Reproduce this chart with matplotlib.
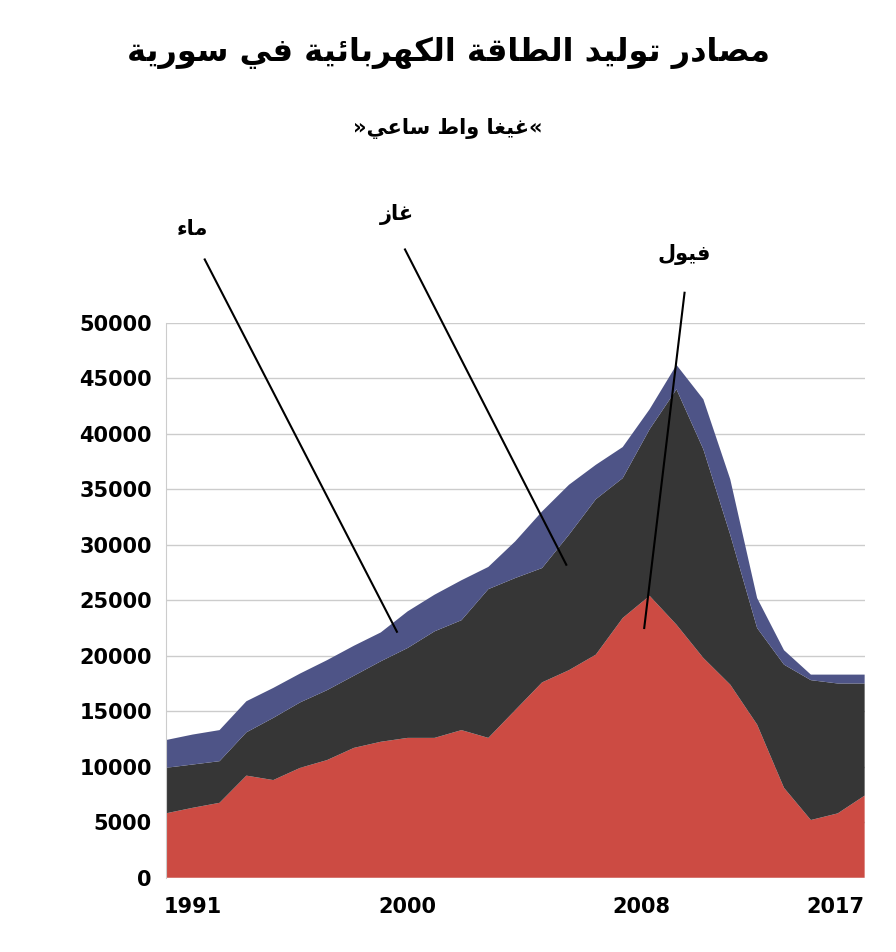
import matplotlib
matplotlib.use("Agg")
import matplotlib.pyplot as plt
import numpy as np

years = list(range(1991, 2018))
fuel = [5800, 6300, 6750, 9200, 8800, 9900, 10600, 11700, 12250, 12600, 12600, 13300, 12600,
        15100, 17600, 18700, 20100, 23400, 25400, 22800, 19800, 17400, 13800, 8100, 5200, 5800, 7400]
fuel_gas = [9900, 10200, 10500, 13100, 14400, 15800, 16900, 18200, 19500, 20700, 22200, 23200, 26000,
            27000, 27900, 30900, 34100, 36000, 40400, 44000, 38600, 30900, 22500, 19200, 17800, 17500, 17500]
total = [12400, 12900, 13300, 15900, 17100, 18400, 19600, 20900, 22100, 24000, 25500, 26800, 28000,
         30300, 33000, 35400, 37200, 38800, 42200, 46200, 43100, 35900, 25200, 20500, 18300, 18300, 18300]
gas = [a - b for a, b in zip(fuel_gas, fuel)]
water = [a - b for a, b in zip(total, fuel_gas)]
xtick_labels = [1991, 2000, 2008, 2017]
xtick_pos = [1992.0, 2000.0, 2008.7, 2015.9]
yticks = list(range(0, 50001, 5000))

title = "مصادر توليد الطاقة الكهربائية في سورية"
subtitle = "«غيغا واط ساعي»"
lbl_water, lbl_gas, lbl_fuel = "ماء", "غاز", "فيول"

_base = {'ء':(0xFE80,1),'آ':(0xFE81,2),'أ':(0xFE83,2),'ؤ':(0xFE85,2),'إ':(0xFE87,2),'ئ':(0xFE89,4),
         'ا':(0xFE8D,2),'ب':(0xFE8F,4),'ة':(0xFE93,2),'ت':(0xFE95,4),'ث':(0xFE99,4),'ج':(0xFE9D,4),
         'ح':(0xFEA1,4),'خ':(0xFEA5,4),'د':(0xFEA9,2),'ذ':(0xFEAB,2),'ر':(0xFEAD,2),'ز':(0xFEAF,2),
         'س':(0xFEB1,4),'ش':(0xFEB5,4),'ص':(0xFEB9,4),'ض':(0xFEBD,4),'ط':(0xFEC1,4),'ظ':(0xFEC5,4),
         'ع':(0xFEC9,4),'غ':(0xFECD,4),'ف':(0xFED1,4),'ق':(0xFED5,4),'ك':(0xFED9,4),'ل':(0xFEDD,4),
         'م':(0xFEE1,4),'ن':(0xFEE5,4),'ه':(0xFEE9,4),'و':(0xFEED,2),'ى':(0xFEEF,2),'ي':(0xFEF1,4)}

def shape(s):
    out = []
    n = len(s)
    for i, c in enumerate(s):
        if c not in _base:
            out.append(c); continue
        code, k = _base[c]
        prev = s[i-1] if i > 0 else ''
        nxt = s[i+1] if i < n-1 else ''
        jp = prev in _base and _base[prev][1] == 4
        jn = k == 4 and nxt in _base and _base[nxt][1] > 1
        if k == 1:
            f = 0
        elif jp and jn:
            f = 3
        elif jp:
            f = 1
        elif jn:
            f = 2
        else:
            f = 0
        out.append(chr(code + f))
    return ''.join(out)[::-1]

plt.rcParams['font.family'] = ['DejaVu Sans']
fig = plt.figure(figsize=(8.96, 9.52), dpi=100)
ax = fig.add_axes([0.185, 0.078, 0.78, 0.583])
ax.stackplot(years, fuel, gas, water, colors=['#CC4B43', '#363636', '#4E5487'], zorder=2)
ax.set_xlim(1991, 2017)
ax.set_ylim(0, 50000)
ax.set_yticks(yticks)
ax.set_yticklabels([str(v) for v in yticks], fontsize=15, fontweight='bold')
ax.set_xticks(xtick_pos)
ax.set_xticklabels([str(v) for v in xtick_labels], fontsize=15, fontweight='bold')
ax.tick_params(length=0, pad=10)
ax.tick_params(axis='x', pad=14)
ax.grid(axis='y', color='#cccccc', lw=1, zorder=0)
for s in ['top', 'right', 'bottom']:
    ax.spines[s].set_visible(False)
ax.spines['left'].set_color('#cccccc')

lines = [(lbl_water, (1992.45, 55700), (1999.6, 22160), (1992.0, 57500)),
         (lbl_gas, (1999.9, 56600), (2005.9, 28200), (1999.6, 58800)),
         (lbl_fuel, (2010.3, 52700), (2008.8, 22500), (2010.3, 55200))]
for txt, p0, p1, pt in lines:
    ax.plot([p0[0], p1[0]], [p0[1], p1[1]], color='black', lw=1.5, clip_on=False, zorder=5)
    ax.text(pt[0], pt[1], shape(txt), fontsize=15, fontweight='bold', ha='center', va='bottom')

fig.text(0.5, 0.945, shape(title), fontsize=23, fontweight='bold', ha='center', va='center')
fig.text(0.5, 0.865, shape(subtitle), fontsize=15, fontweight='bold', ha='center', va='center')
fig.savefig('out.png', dpi=100)
